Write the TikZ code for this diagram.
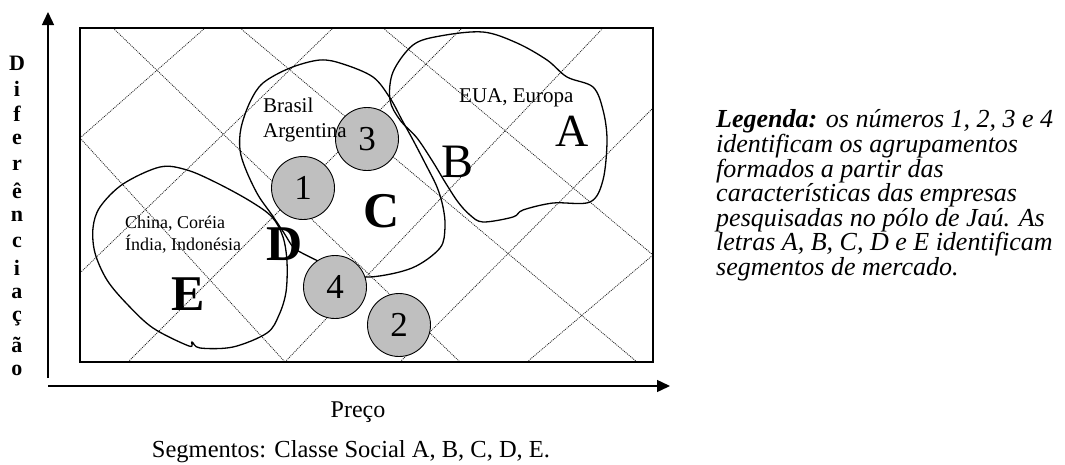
\documentclass[tikz,border=0pt]{standalone}
\usepackage{fontspec}
\setmainfont{Liberation Serif}
\usetikzlibrary{arrows.meta}
\begin{document}
\begin{tikzpicture}[x=1pt,y=-1pt,
  gridline/.style={line width=0.8pt, dash pattern=on 1pt off 1pt, black!85},
  blob/.style={line width=1.3pt},
  cluster/.style={circle, draw, fill=black!25, line width=0.9pt, minimum size=63pt, inner sep=0pt, font=\fontsize{35}{35}\selectfont},
  axis/.style={line width=1.4pt, -{Triangle[length=13pt,width=12pt]}},
  lbl/.style={font=\fontsize{21}{21}\selectfont, inner sep=0pt, anchor=base west},
  smalllbl/.style={font=\fontsize{18}{18}\selectfont, inner sep=0pt, anchor=base west},
  seg/.style={inner sep=0pt, anchor=base},
  leg/.style={font=\fontsize{26}{26}\selectfont\itshape, inner sep=0pt, anchor=base west},
  vlet/.style={font=\fontsize{22}{22}\selectfont\bfseries, inner sep=0pt}
]
\useasboundingbox (0,0) rectangle (1065,464);

% axes
\coordinate (yb) at (48,378);
\coordinate (yt) at (48,12);
\coordinate (xl) at (48,386);
\coordinate (xr) at (670,386);
\draw[axis] (yb) -- (yt);
\draw[axis] (xl) -- (xr);

% grid lines
\draw[gridline] (80,138) -- (205,28);
\draw[gridline] (80,273) -- (333,28);
\draw[gridline] (128,362) -- (462,28);
\draw[gridline] (285,362) -- (603,28);
\draw[gridline] (400,362) -- (653,108);
\draw[gridline] (527,362) -- (653,255);
\draw[gridline] (113,28) -- (460,362);
\draw[gridline] (80,138) -- (285,362);
\draw[gridline] (240,28) -- (637,362);
\draw[gridline] (383,28) -- (653,255);

% frame
\draw[line width=1.8pt] (80,28) rectangle (653,362);

% blobs
\draw[blob] plot[smooth cycle, tension=0.55] coordinates {
 (390,100) (393,72) (413,45) (440,36) (483,32) (517,43) (547,60) (567,77)
 (593,87) (603,110) (607,140) (603,180) (590,202) (553,203) (523,210)
 (513,217) (483,222) (470,215) (458,202) (445,182) (433,162) (417,138) (400,120)};
\draw[blob] plot[smooth cycle, tension=0.55] coordinates {
 (263,83) (290,68) (320,60) (343,64) (373,77) (390,98) (402,120) (413,140)
 (425,163) (437,187) (443,207) (445,227) (440,248) (412,268) (370,277)
 (340,272) (318,261) (302,253) (293,247) (284,233) (272,215) (258,195)
 (246,170) (240,150) (241,128) (250,102)};
\draw[blob] plot[smooth cycle, tension=0.55] coordinates {
 (100,207) (123,184) (160,167) (187,170) (217,183) (250,201) (272,217)
 (283,237) (287,262) (286,292) (279,315) (267,333) (233,347) (200,348)
 (192,342) (189,346) (153,328) (127,304) (107,280) (95,253) (93,228)};

% clusters
\node[cluster] (c1) at (303,188) {1};
\node[cluster] (c3) at (367,139) {3};
\node[cluster] (c4) at (335,287) {4};
\node[cluster] (c2) at (399,325) {2};

% region labels
\node[lbl] (eua) at (459,102) {EUA, Europa};
\node[lbl] (bra) at (263,112) {Brasil};
\node[lbl] (arg) at (263,137) {Argentina};
\node[smalllbl] (chi) at (125,228) {China, Coréia};
\node[smalllbl] (ind) at (125,250) {Índia, Indonésia};

\node[seg, font=\fontsize{46}{46}\selectfont] (la) at (572,146) {A};
\node[seg, font=\fontsize{48}{48}\selectfont] (lb) at (458,177) {B};
\node[seg, font=\fontsize{50}{50}\selectfont\bfseries] (lc) at (382,227) {C};
\node[seg, font=\fontsize{50}{50}\selectfont\bfseries] (ld) at (285,260) {D};
\node[seg, font=\fontsize{50}{50}\selectfont\bfseries] (le) at (188,310) {E};

% vertical axis title
\foreach \ch [count=\i from 0] in {D,i,f,e,r,ê,n,c,i,a,ç,ã,o}
  \node[vlet] (v\i) at (17,{63+25.6*\i}) {\ch};

% axis captions
\node[seg, font=\fontsize{24}{24}\selectfont] (preco) at (358,417) {Preço};
\node[seg, font=\fontsize{24.5}{24.5}\selectfont] (segm) at (351,457) {Segmentos: Classe Social A, B, C, D, E.};

% legend
\node[leg] (g1) at (716,127) {\textbf{Legenda:} os números 1, 2, 3 e 4};
\node[leg] (g2) at (716,152) {identificam os agrupamentos};
\node[leg] (g3) at (716,177) {formados a partir das};
\node[leg] (g4) at (716,201) {características das empresas};
\node[leg] (g5) at (716,226) {pesquisadas no pólo de Jaú. As};
\node[leg] (g6) at (716,250) {letras A, B, C, D e E identificam};
\node[leg] (g7) at (716,275) {segmentos de mercado.};
\end{tikzpicture}
\end{document}
